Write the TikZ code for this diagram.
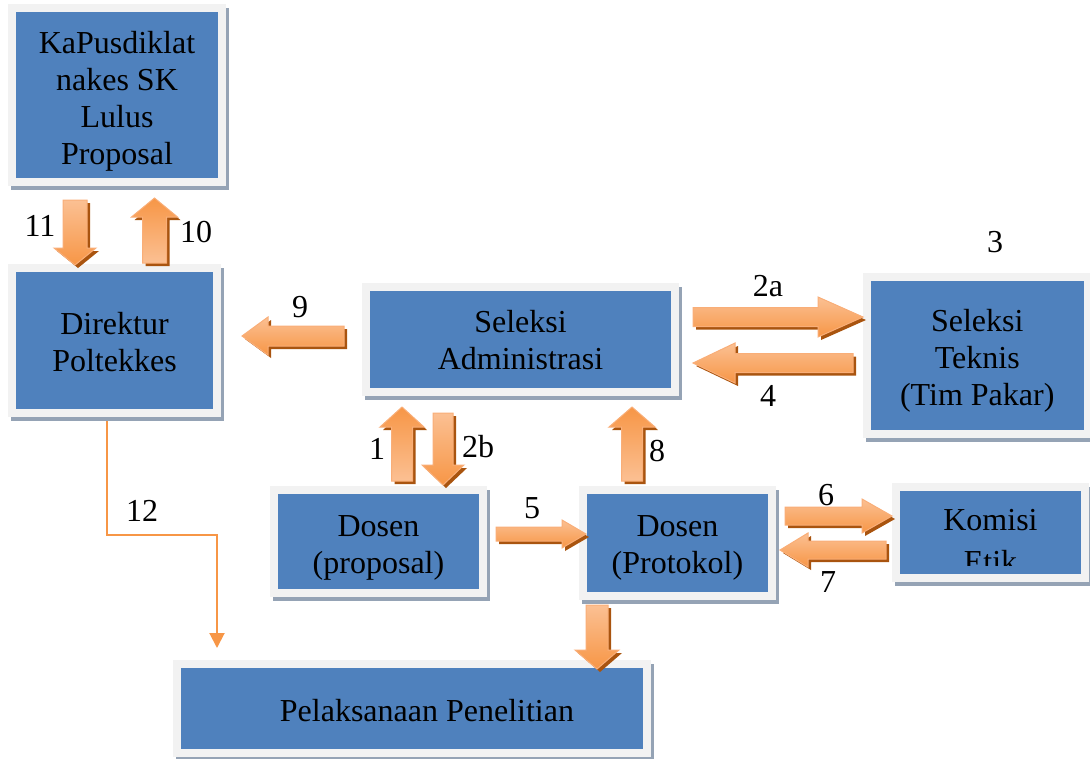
\documentclass[tikz,border=0pt]{standalone}
\usepackage{fontspec}
\setmainfont{Liberation Serif}
\usetikzlibrary{arrows.meta,backgrounds}
\definecolor{boxblue}{HTML}{4F81BD}
\definecolor{framegray}{HTML}{F2F2F2}
\definecolor{shadegray}{HTML}{95A3B5}
\definecolor{arrorange}{HTML}{F79646}
\definecolor{arrlight}{HTML}{FBC093}
\definecolor{arrdark}{HTML}{A9540F}
\definecolor{arredge}{HTML}{F9AE78}

% text of a box, lowered a little without changing its size
\newcommand\btext[2][2.5pt]{\raisebox{-#1}[\height][\depth]{\begin{tabular}{@{}c@{}}#2\end{tabular}}}

% horizontal block arrow: tail x, base x, tip x, centre y, shaft half, head half
\newcommand\harr[6]{%
  \path[arrshadow] (#1,{#4-#5}) -- (#2,{#4-#5}) -- (#2,{#4-#6}) -- (#3,#4) -- (#2,{#4+#6}) -- (#2,{#4+#5}) -- (#1,{#4+#5}) -- cycle;
  \path[arrhoriz] (#1,{#4-#5}) -- (#2,{#4-#5}) -- (#2,{#4-#6}) -- (#3,#4) -- (#2,{#4+#6}) -- (#2,{#4+#5}) -- (#1,{#4+#5}) -- cycle;
}
% vertical block arrow: style, tail y, base y, tip y, centre x, shaft half, head half
\newcommand\varr[7]{%
  \path[arrshadow] ({#5-#6},#2) -- ({#5-#6},#3) -- ({#5-#7},#3) -- (#5,#4) -- ({#5+#7},#3) -- ({#5+#6},#3) -- ({#5+#6},#2) -- cycle;
  \path[#1] ({#5-#6},#2) -- ({#5-#6},#3) -- ({#5-#7},#3) -- (#5,#4) -- ({#5+#7},#3) -- ({#5+#6},#3) -- ({#5+#6},#2) -- cycle;
}

\begin{document}
\begin{tikzpicture}[x=0.75pt,y=-0.75pt,
  font=\fontsize{24}{27.75}\selectfont,
  box/.style={rectangle, inner sep=0pt, fill=boxblue, draw=framegray, line width=6pt,
    align=center, text=black,
    preaction={draw=shadegray, fill=shadegray, transform canvas={shift={(2.25pt,-3pt)}}}},
  lbl/.style={inner sep=0pt, text=black},
  arrshadow/.style={fill=arrdark, shift={(3,3)}},
  arrhoriz/.style={draw=arredge, line width=0.75pt, top color=arrlight, bottom color=arrorange},
  arrdown/.style={draw=arredge, line width=0.75pt, top color=arrlight, bottom color=arrorange},
  arrup/.style={draw=arredge, line width=0.75pt, top color=arrorange, bottom color=arrlight},
  link/.style={draw=arrorange, line width=1.5pt, -{Triangle[width=11.25pt,length=11.25pt]}}]

\useasboundingbox (0,0) rectangle (1090,758);

% boxes
\node[box, minimum width=157.5pt, minimum height=130.5pt] (kapus) at (117,95) {\btext[5pt]{KaPusdiklat\\nakes SK\\Lulus\\Proposal}};
\node[box, minimum width=153.75pt, minimum height=108.75pt] (direktur) at (114.5,340) {\btext[4pt]{Direktur\\Poltekkes}};
\node[box, minimum width=231.75pt, minimum height=78.75pt] (seladm) at (520.5,339.5) {\btext[3.25pt]{Seleksi\\Administrasi}};
\node[box, minimum width=166.1pt, minimum height=117.75pt] (seltek) at (977.25,355.5) {\btext[4.25pt]{Seleksi\\Teknis\\(Tim Pakar)}};
\node[box, minimum width=156.75pt, minimum height=77.25pt] (dosprop) at (378.5,541.5) {\btext[4.25pt]{Dosen\\(proposal)}};
\node[box, minimum width=141.75pt, minimum height=79.5pt] (dosprot) at (677.5,543) {\btext[3.75pt]{Dosen\\(Protokol)}};
\node[box, minimum width=141.75pt, minimum height=68.25pt] (komisi) at (990.5,532.5) {};
\begin{scope}
  \clip (900,491) rectangle (1081,565);
  \node[lbl, anchor=base] (komisitext) at (990.5,530) {Komisi};
  \node[lbl, anchor=base] (etiktext) at (990.5,572) {Etik};
\end{scope}
\node[box, minimum width=352.5pt, minimum height=66.75pt] (pelak) at (412,708.5) {\btext[4.5pt]{\hspace*{22.5pt}Pelaksanaan Penelitian}};

% line 12
\begin{scope}[on background layer]
  \coordinate (x12) at (107,0);
  \coordinate (c12) at (217,535);
  \draw[link, shorten >=9pt] (direktur.south -| x12) |- (c12) -- (c12 |- pelak.north);
\end{scope}

% block arrows
\varr{arrdown}{200}{248}{265}{75}{12}{21}      % 11
\varr{arrup}{263}{217}{198}{154.5}{12}{23}     % 10
\harr{344}{268}{242}{336}{10}{19}              % 9
\harr{693}{818}{863}{317}{9.5}{20}             % 2a
\harr{853}{735}{693}{363}{9.5}{20}             % 4
\varr{arrup}{481}{427}{407}{402}{10.5}{22}     % 1
\varr{arrdown}{413}{465}{485}{443}{10}{21}     % 2b
\varr{arrup}{481}{427}{407}{632}{10.5}{23}     % 8
\harr{496}{562}{586}{534}{7}{14}               % 5
\harr{785}{862}{892}{516}{9}{17}               % 6
\harr{886}{808}{780}{550}{9}{17}               % 7
\varr{arrdown}{605}{650}{669}{597}{11}{22}     % to Pelaksanaan

% labels
\node[lbl] (l11) at (40,226) {11};
\node[lbl] (l10) at (196,232) {10};
\node[lbl] (l9) at (300,307) {9};
\node[lbl] (l2a) at (768,286) {2a};
\node[lbl] (l4) at (768,396) {4};
\node[lbl] (l3) at (995,242) {3};
\node[lbl] (l1) at (377,449) {1};
\node[lbl] (l2b) at (478,447) {2b};
\node[lbl] (l8) at (657,451) {8};
\node[lbl] (l12) at (142,511) {12};
\node[lbl] (l5) at (532,508) {5};
\node[lbl] (l6) at (826,495) {6};
\node[lbl] (l7) at (828,582) {7};
\end{tikzpicture}
\end{document}
